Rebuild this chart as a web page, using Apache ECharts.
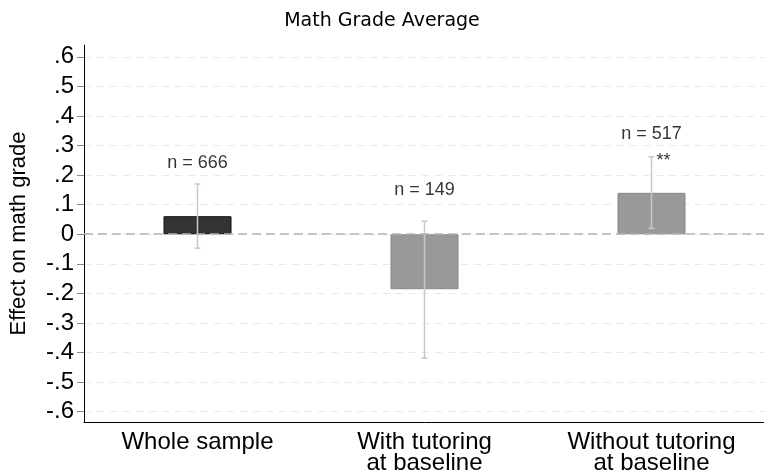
<!DOCTYPE html>
<html>
<head>
<meta charset="utf-8">
<script src="https://cdn.jsdelivr.net/npm/echarts@6/dist/echarts.min.js"></script>
<style>html,body{margin:0;padding:0;background:#fff}#c{width:764px;height:474px}</style>
</head>
<body>
<div id="c"></div>
<script>
const titleText = 'Math Grade Average';
const yAxisTitle = 'Effect on math grade';
const categories = ['Whole sample', 'With tutoring\nat baseline', 'Without tutoring\nat baseline'];
const effects = [0.061, -0.186, 0.140];
const ciLow = [-0.047, -0.419, 0.020];
const ciHigh = [0.170, 0.044, 0.262];
const nLabels = ['n = 666', 'n = 149', 'n = 517'];
const nLabelPos = [0.24, 0.15, 0.34];
const stars = ['', '', '**'];
const yTicks = [-0.6, -0.5, -0.4, -0.3, -0.2, -0.1, 0, 0.1, 0.2, 0.3, 0.4, 0.5, 0.6];
const barFill = ['#333333', '#999999', '#999999'];
const barBorder = ['#111111', '#888888', '#888888'];

function fmt(v) {
  if (Math.abs(v) < 1e-9) return '0';
  const s = Math.abs(v).toFixed(1).replace(/^0/, '');
  return (v < 0 ? '-' : '') + s;
}

const chart = echarts.init(document.getElementById('c'), null, {renderer: 'canvas'});
const font = 'Liberation Sans, Arial, Helvetica, sans-serif';

chart.setOption({
  animation: false,
  backgroundColor: '#ffffff',
  title: {
    text: titleText,
    left: 'center',
    top: 7,
    textStyle: {fontFamily: 'DejaVu Sans, sans-serif', fontSize: 19, fontWeight: 'normal', color: '#000'}
  },
  grid: {left: 84, right: -1, top: 45, bottom: 52, outerBoundsMode: 'none', containLabel: false},
  xAxis: {
    type: 'category',
    data: categories,
    boundaryGap: true,
    axisLine: {onZero: false, lineStyle: {color: '#000', width: 1}},
    axisTick: {alignWithLabel: true, length: 5, lineStyle: {color: '#888'}},
    axisLabel: {fontFamily: font, fontSize: 24, lineHeight: 21, color: '#000', margin: 10, interval: 0},
    splitLine: {show: false}
  },
  yAxis: {
    type: 'value',
    min: -0.635,
    max: 0.64,
    name: yAxisTitle,
    nameLocation: 'middle',
    nameGap: 54,
    nameTextStyle: {fontFamily: font, fontSize: 22, color: '#000'},
    axisLine: {show: true, lineStyle: {color: '#000', width: 1}},
    axisTick: {show: true, length: 7, customValues: yTicks, lineStyle: {color: '#888'}},
    axisLabel: {customValues: yTicks, formatter: fmt, fontFamily: font, fontSize: 24, color: '#000', margin: 10},
    splitLine: {show: true, lineStyle: {color: '#e8e8e8', type: [7, 6], width: 1}}
  },
  series: [
    {
      type: 'bar',
      barWidth: 68,
      data: effects.map((v, i) => ({
        value: v,
        itemStyle: {color: barFill[i], borderColor: barBorder[i], borderWidth: 1}
      })),
      z: 2,
      markLine: {
        silent: true,
        symbol: 'none',
        label: {show: false},
        lineStyle: {color: '#b4b4b4', type: [9, 5], width: 1.5},
        data: [{yAxis: 0}]
      }
    },
    {
      type: 'custom',
      z: 3,
      data: categories.map((c, i) => [i, ciLow[i], ciHigh[i]]),
      renderItem: function (params, api) {
        const lo = api.coord([api.value(0), api.value(1)]);
        const hi = api.coord([api.value(0), api.value(2)]);
        const cap = 3;
        const style = {stroke: '#c8c8c8', lineWidth: 1.5};
        return {
          type: 'group',
          children: [
            {type: 'line', shape: {x1: lo[0], y1: lo[1], x2: hi[0], y2: hi[1]}, style: style},
            {type: 'line', shape: {x1: lo[0] - cap, y1: lo[1], x2: lo[0] + cap, y2: lo[1]}, style: style},
            {type: 'line', shape: {x1: hi[0] - cap, y1: hi[1], x2: hi[0] + cap, y2: hi[1]}, style: style}
          ]
        };
      }
    },
    {
      type: 'scatter',
      symbolSize: 0,
      z: 4,
      data: nLabelPos.map((v, i) => [i, v]),
      label: {
        show: true,
        position: 'inside',
        formatter: p => nLabels[p.dataIndex],
        fontFamily: font, fontSize: 18, color: '#000'
      }
    },
    {
      type: 'scatter',
      symbolSize: 0,
      z: 4,
      data: ciHigh.map((v, i) => [i, v]),
      label: {
        show: true,
        position: 'right',
        distance: 5,
        offset: [0, 4],
        formatter: p => stars[p.dataIndex],
        fontFamily: font, fontSize: 18, color: '#000'
      }
    }
  ]
});
</script>
</body>
</html>
